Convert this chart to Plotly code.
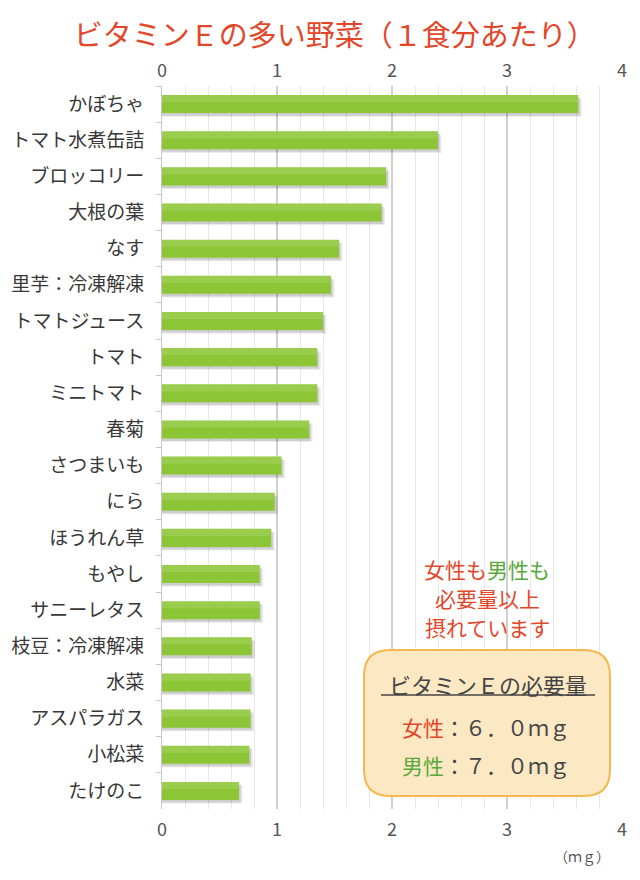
import plotly.graph_objects as go

categories = ["かぼちゃ", "トマト水煮缶詰", "ブロッコリー", "大根の葉", "なす",
              "里芋：冷凍解凍", "トマトジュース", "トマト", "ミニトマト", "春菊",
              "さつまいも", "にら", "ほうれん草", "もやし", "サニーレタス",
              "枝豆：冷凍解凍", "水菜", "アスパラガス", "小松菜", "たけのこ"]
values = [3.62, 2.40, 1.95, 1.91, 1.54, 1.47, 1.40, 1.35, 1.35, 1.28,
          1.04, 0.98, 0.95, 0.85, 0.85, 0.78, 0.77, 0.77, 0.76, 0.67]
x_ticks = [0, 1, 2, 3, 4]

FONT = "Noto Sans CJK JP"
RED = "#e2472a"
GREEN = "#5aa83a"
DARK = "#444444"

W, H = 640, 880
L, R, T, B = 162, 18, 86, 71
pw, ph = W - L - R, H - T - B


def px(x):
    return (x - L) / pw


def py(y):
    return (H - B - y) / ph


fig = go.Figure()

# soft shadow layers
for dx, dy, a in [(0.03, 0.10, 0.08), (0.015, 0.07, 0.12)]:
    fig.add_trace(go.Bar(
        y=categories, x=[v + dx for v in values], orientation="h",
        width=0.5, offset=-0.25 + dy,
        marker=dict(color=f"rgba(0,0,0,{a})", line=dict(width=0)),
        hoverinfo="skip", showlegend=False))

fig.add_trace(go.Bar(
    y=categories, x=values, orientation="h", width=0.5, offset=-0.25,
    marker=dict(color="#8cc636", line=dict(width=0)),
    showlegend=False))
# soft highlight on upper half
fig.add_trace(go.Bar(
    y=categories, x=values, orientation="h", width=0.2, offset=-0.25,
    marker=dict(color="rgba(255,255,255,0.12)", line=dict(width=0)),
    hoverinfo="skip", showlegend=False))

fig.add_trace(go.Scatter(x=[0], y=[categories[0]], xaxis="x2", mode="markers",
                         marker=dict(opacity=0, size=1), hoverinfo="skip", showlegend=False))

axis_font = dict(family=FONT, size=18, color="#555555")

fig.update_layout(
    width=W, height=H,
    margin=dict(l=L, r=R, t=T, b=B, pad=0),
    paper_bgcolor="white", plot_bgcolor="white",
    barmode="overlay",
    title=dict(text="ビタミンＥの多い野菜（１食分あたり）", x=0.523, xanchor="center",
               y=1 - 36 / H, yanchor="middle",
               font=dict(family=FONT, size=29, color=RED)),
    xaxis=dict(range=[0, 4], tickvals=x_ticks, ticktext=[str(t) for t in x_ticks],
               showgrid=True, gridcolor="#d0d0d0", gridwidth=2,
               minor=dict(dtick=0.2, showgrid=True, gridcolor="#e8e8e8", gridwidth=1),
               zeroline=False, showline=False, ticks="", automargin=False,
               tickfont=axis_font, ticklabelstandoff=8, fixedrange=True),
    xaxis2=dict(range=[0, 4], tickvals=x_ticks, ticktext=[str(t) for t in x_ticks],
                overlaying="x", side="top", anchor="y", automargin=False,
                showgrid=False, zeroline=False, showline=False, ticks="",
                tickfont=axis_font, ticklabelstandoff=4),
    yaxis=dict(type="category", categoryorder="array", categoryarray=categories,
               autorange=False, range=[len(categories) - 0.5, -0.5],
               showline=True, linecolor="#c8c8c8", linewidth=1,
               ticks="outside", tickson="boundaries", ticklen=5, tickcolor="#c8c8c8",
               showgrid=False, zeroline=False, automargin=False,
               tickfont=dict(family=FONT, size=19, color="#383838"),
               ticklabelstandoff=13),
)

# message text
ann = [
    (569, f"<span style='color:{RED}'>女性も</span><span style='color:{GREEN}'>男性も</span>"),
    (598, f"<span style='color:{RED}'>必要量以上</span>"),
    (627, f"<span style='color:{RED}'>摂れています</span>"),
]
for yy, txt in ann:
    fig.add_annotation(x=px(487), y=py(yy), xref="paper", yref="paper", text=txt,
                       showarrow=False, xanchor="center", yanchor="middle",
                       font=dict(family=FONT, size=21))

# rounded box
x0, x1, y0, y1, r = 364, 610, 650, 796, 26


def P(x, y):
    return f"{px(x):.5f},{py(y):.5f}"


path = (f"M {P(x0 + r, y0)} L {P(x1 - r, y0)} Q {P(x1, y0)} {P(x1, y0 + r)} "
        f"L {P(x1, y1 - r)} Q {P(x1, y1)} {P(x1 - r, y1)} "
        f"L {P(x0 + r, y1)} Q {P(x0, y1)} {P(x0, y1 - r)} "
        f"L {P(x0, y0 + r)} Q {P(x0, y0)} {P(x0 + r, y0)} Z")
fig.add_shape(type="path", path=path, xref="paper", yref="paper",
              fillcolor="#fde8c4", line=dict(color="#f5b84e", width=2), layer="above")

fig.add_annotation(x=px(488), y=py(684), xref="paper", yref="paper",
                   text="ビタミンＥの必要量", showarrow=False,
                   xanchor="center", yanchor="middle",
                   font=dict(family=FONT, size=22, color=DARK))
fig.add_shape(type="line", xref="paper", yref="paper",
              x0=px(381), x1=px(595), y0=py(695), y1=py(695),
              line=dict(color=DARK, width=1.5), layer="above")
fig.add_annotation(x=px(486), y=py(727), xref="paper", yref="paper",
                   text=f"<span style='color:{RED}'>女性</span>：６．０ｍｇ", showarrow=False,
                   xanchor="center", yanchor="middle",
                   font=dict(family=FONT, size=21, color=DARK))
fig.add_annotation(x=px(486), y=py(765), xref="paper", yref="paper",
                   text=f"<span style='color:{GREEN}'>男性</span>：７．０ｍｇ", showarrow=False,
                   xanchor="center", yanchor="middle",
                   font=dict(family=FONT, size=21, color=DARK))

fig.add_annotation(x=px(612), y=py(856), xref="paper", yref="paper",
                   text="（ｍｇ）", showarrow=False, xanchor="right", yanchor="middle",
                   font=dict(family=FONT, size=14, color="#555555"))

fig.write_html("out.html")
